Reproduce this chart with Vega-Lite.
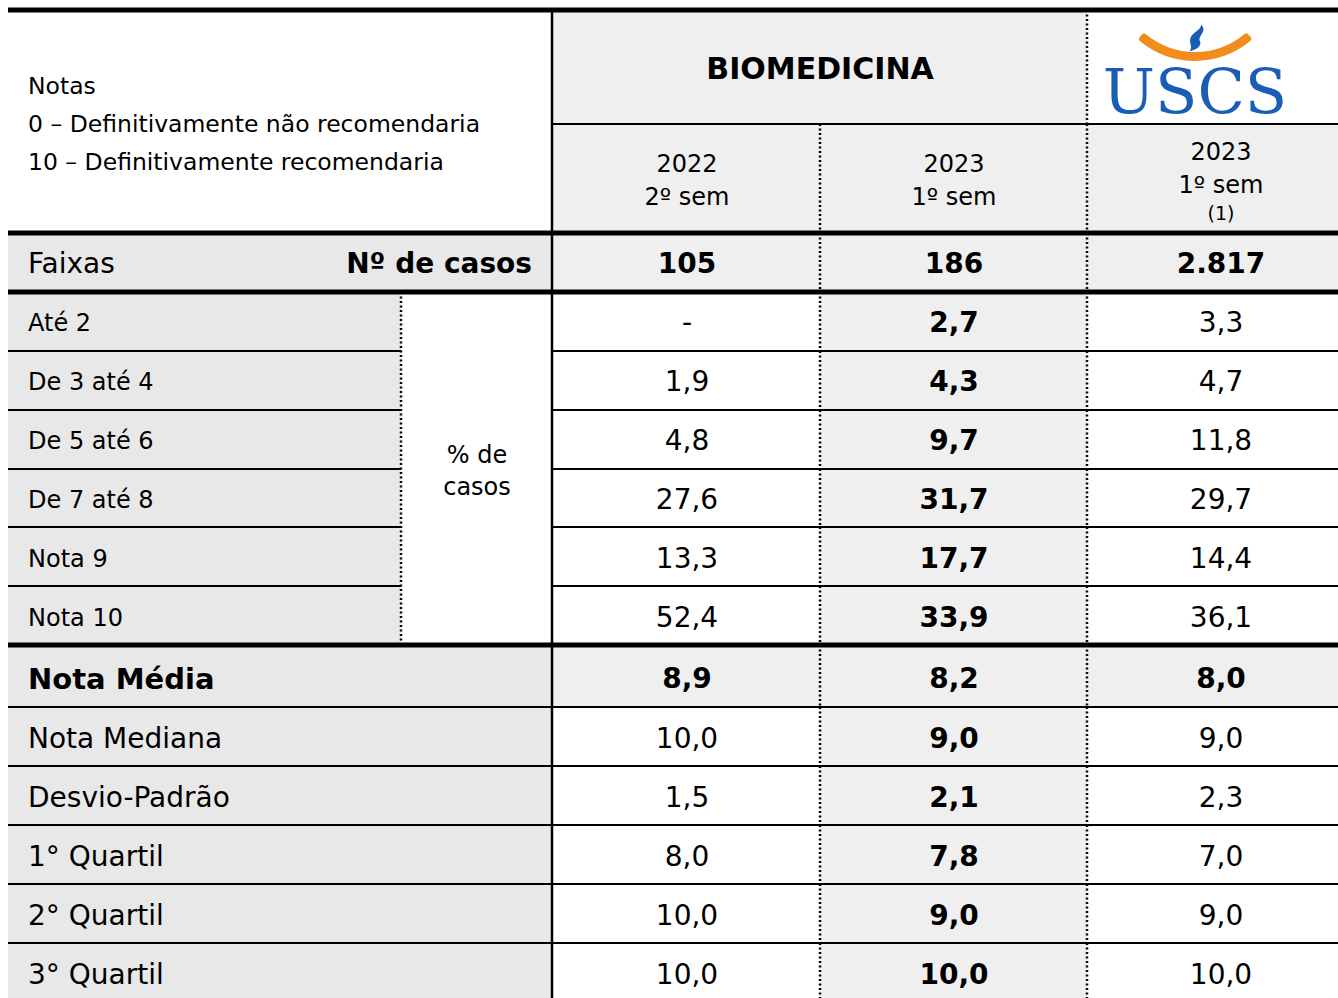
{
  "$schema": "https://vega.github.io/schema/vega-lite/v6.json",
  "width": 1338,
  "height": 998,
  "autosize": {"type": "none"},
  "padding": 0,
  "background": "white",
  "config": {"view": {"stroke": null}, "text": {"font": "DejaVu Sans", "color": "black"}},
  "datasets": {
    "rows": [
      {"row": "head", "y0": 10, "y1": 233, "yc": 123},
      {"row": "top", "y0": 10, "y1": 124, "yc": 70},
      {"row": "years", "y0": 124, "y1": 233, "yc": 179},
      {"row": "faixas", "y0": 233, "y1": 292, "yc": 265},
      {"row": "bloco", "y0": 292, "y1": 645, "yc": 470},
      {"row": "r1", "y0": 292, "y1": 351, "yc": 324},
      {"row": "r2", "y0": 351, "y1": 410, "yc": 383},
      {"row": "r3", "y0": 410, "y1": 469, "yc": 442},
      {"row": "r4", "y0": 469, "y1": 527, "yc": 501},
      {"row": "r5", "y0": 527, "y1": 586, "yc": 560},
      {"row": "r6", "y0": 586, "y1": 645, "yc": 619},
      {"row": "media", "y0": 645, "y1": 707, "yc": 680},
      {"row": "mediana", "y0": 707, "y1": 766, "yc": 740},
      {"row": "desvio", "y0": 766, "y1": 825, "yc": 799},
      {"row": "q1", "y0": 825, "y1": 884, "yc": 858},
      {"row": "q2", "y0": 884, "y1": 943, "yc": 917},
      {"row": "q3", "y0": 943, "y1": 998, "yc": 976}
    ],
    "cols": [
      {"col": "label", "x0": 8, "x1": 552, "xc": 280},
      {"col": "rotulo", "x0": 8, "x1": 401, "xc": 204},
      {"col": "pct", "x0": 401, "x1": 552, "xc": 477},
      {"col": "c1", "x0": 552, "x1": 820, "xc": 687},
      {"col": "c2", "x0": 820, "x1": 1087, "xc": 954},
      {"col": "c3", "x0": 1087, "x1": 1338, "xc": 1221},
      {"col": "bio", "x0": 552, "x1": 1087, "xc": 820},
      {"col": "logo", "x0": 1087, "x1": 1338, "xc": 1212}
    ],
    "cells": [
      {"row": "head", "col": "label"}, {"row": "top", "col": "bio"}, {"row": "top", "col": "logo"},
      {"row": "years", "col": "c1"}, {"row": "years", "col": "c2"}, {"row": "years", "col": "c3"},
      {"row": "faixas", "col": "label"}, {"row": "faixas", "col": "c1"}, {"row": "faixas", "col": "c2"}, {"row": "faixas", "col": "c3"},
      {"row": "bloco", "col": "pct"},
      {"row": "r1", "col": "rotulo"}, {"row": "r1", "col": "c1"}, {"row": "r1", "col": "c2"}, {"row": "r1", "col": "c3"},
      {"row": "r2", "col": "rotulo"}, {"row": "r2", "col": "c1"}, {"row": "r2", "col": "c2"}, {"row": "r2", "col": "c3"},
      {"row": "r3", "col": "rotulo"}, {"row": "r3", "col": "c1"}, {"row": "r3", "col": "c2"}, {"row": "r3", "col": "c3"},
      {"row": "r4", "col": "rotulo"}, {"row": "r4", "col": "c1"}, {"row": "r4", "col": "c2"}, {"row": "r4", "col": "c3"},
      {"row": "r5", "col": "rotulo"}, {"row": "r5", "col": "c1"}, {"row": "r5", "col": "c2"}, {"row": "r5", "col": "c3"},
      {"row": "r6", "col": "rotulo"}, {"row": "r6", "col": "c1"}, {"row": "r6", "col": "c2"}, {"row": "r6", "col": "c3"},
      {"row": "media", "col": "label"}, {"row": "media", "col": "c1"}, {"row": "media", "col": "c2"}, {"row": "media", "col": "c3"},
      {"row": "mediana", "col": "label"}, {"row": "mediana", "col": "c1"}, {"row": "mediana", "col": "c2"}, {"row": "mediana", "col": "c3"},
      {"row": "desvio", "col": "label"}, {"row": "desvio", "col": "c1"}, {"row": "desvio", "col": "c2"}, {"row": "desvio", "col": "c3"},
      {"row": "q1", "col": "label"}, {"row": "q1", "col": "c1"}, {"row": "q1", "col": "c2"}, {"row": "q1", "col": "c3"},
      {"row": "q2", "col": "label"}, {"row": "q2", "col": "c1"}, {"row": "q2", "col": "c2"}, {"row": "q2", "col": "c3"},
      {"row": "q3", "col": "label"}, {"row": "q3", "col": "c1"}, {"row": "q3", "col": "c2"}, {"row": "q3", "col": "c3"}
    ],
    "texts": [
      {"row": "head", "col": "label", "text": "Notas\n0 – Definitivamente não recomendaria\n10 – Definitivamente recomendaria"},
      {"row": "top", "col": "bio", "text": "BIOMEDICINA"},
      {"row": "top", "col": "logo", "text": "USCS"},
      {"row": "years", "col": "c1", "text": "2022\n2º sem"},
      {"row": "years", "col": "c2", "text": "2023\n1º sem"},
      {"row": "years", "col": "c3", "text": "2023\n1º sem"},
      {"row": "years", "col": "c3", "text": "(1)", "part": "nota"},
      {"row": "faixas", "col": "label", "text": "Faixas"},
      {"row": "faixas", "col": "pct", "text": "Nº de casos"},
      {"row": "faixas", "col": "c1", "text": "105"},
      {"row": "faixas", "col": "c2", "text": "186"},
      {"row": "faixas", "col": "c3", "text": "2.817"},
      {"row": "bloco", "col": "pct", "text": "% de\ncasos"},
      {"row": "r1", "col": "rotulo", "text": "Até 2"}, {"row": "r1", "col": "c1", "text": "-"}, {"row": "r1", "col": "c2", "text": "2,7"}, {"row": "r1", "col": "c3", "text": "3,3"},
      {"row": "r2", "col": "rotulo", "text": "De 3 até 4"}, {"row": "r2", "col": "c1", "text": "1,9"}, {"row": "r2", "col": "c2", "text": "4,3"}, {"row": "r2", "col": "c3", "text": "4,7"},
      {"row": "r3", "col": "rotulo", "text": "De 5 até 6"}, {"row": "r3", "col": "c1", "text": "4,8"}, {"row": "r3", "col": "c2", "text": "9,7"}, {"row": "r3", "col": "c3", "text": "11,8"},
      {"row": "r4", "col": "rotulo", "text": "De 7 até 8"}, {"row": "r4", "col": "c1", "text": "27,6"}, {"row": "r4", "col": "c2", "text": "31,7"}, {"row": "r4", "col": "c3", "text": "29,7"},
      {"row": "r5", "col": "rotulo", "text": "Nota 9"}, {"row": "r5", "col": "c1", "text": "13,3"}, {"row": "r5", "col": "c2", "text": "17,7"}, {"row": "r5", "col": "c3", "text": "14,4"},
      {"row": "r6", "col": "rotulo", "text": "Nota 10"}, {"row": "r6", "col": "c1", "text": "52,4"}, {"row": "r6", "col": "c2", "text": "33,9"}, {"row": "r6", "col": "c3", "text": "36,1"},
      {"row": "media", "col": "label", "text": "Nota Média"}, {"row": "media", "col": "c1", "text": "8,9"}, {"row": "media", "col": "c2", "text": "8,2"}, {"row": "media", "col": "c3", "text": "8,0"},
      {"row": "mediana", "col": "label", "text": "Nota Mediana"}, {"row": "mediana", "col": "c1", "text": "10,0"}, {"row": "mediana", "col": "c2", "text": "9,0"}, {"row": "mediana", "col": "c3", "text": "9,0"},
      {"row": "desvio", "col": "label", "text": "Desvio-Padrão"}, {"row": "desvio", "col": "c1", "text": "1,5"}, {"row": "desvio", "col": "c2", "text": "2,1"}, {"row": "desvio", "col": "c3", "text": "2,3"},
      {"row": "q1", "col": "label", "text": "1° Quartil"}, {"row": "q1", "col": "c1", "text": "8,0"}, {"row": "q1", "col": "c2", "text": "7,8"}, {"row": "q1", "col": "c3", "text": "7,0"},
      {"row": "q2", "col": "label", "text": "2° Quartil"}, {"row": "q2", "col": "c1", "text": "10,0"}, {"row": "q2", "col": "c2", "text": "9,0"}, {"row": "q2", "col": "c3", "text": "9,0"},
      {"row": "q3", "col": "label", "text": "3° Quartil"}, {"row": "q3", "col": "c1", "text": "10,0"}, {"row": "q3", "col": "c2", "text": "10,0"}, {"row": "q3", "col": "c3", "text": "10,0"}
    ]
  },
  "layer": [
    {
      "data": {"name": "cells"},
      "transform": [
        {"lookup": "row", "from": {"data": {"name": "rows"}, "key": "row", "fields": ["y0", "y1", "yc"]}},
        {"lookup": "col", "from": {"data": {"name": "cols"}, "key": "col", "fields": ["x0", "x1", "xc"]}}
      ],
      "layer": [
        {
          "transform": [{"filter": "(datum.col == 'label' || datum.col == 'rotulo') && datum.row != 'head'"}],
          "mark": {"type": "rect", "color": "#e8e8e8"},
          "encoding": {
            "x": {"field": "x0", "type": "quantitative", "scale": {"domain": [0, 1338], "nice": false, "zero": false}, "axis": null},
            "x2": {"field": "x1"},
            "y": {"field": "y0", "type": "quantitative", "scale": {"domain": [0, 998], "nice": false, "zero": false, "reverse": true}, "axis": null},
            "y2": {"field": "y1"}
          }
        },
        {
          "transform": [{"filter": "datum.col == 'bio' || datum.col == 'c2' || ((datum.col == 'c1' || datum.col == 'c3') && (datum.row == 'years' || datum.row == 'faixas' || datum.row == 'media'))"}],
          "mark": {"type": "rect", "color": "#efefef"},
          "encoding": {
            "x": {"field": "x0", "type": "quantitative", "scale": {"domain": [0, 1338], "nice": false, "zero": false}, "axis": null},
            "x2": {"field": "x1"},
            "y": {"field": "y0", "type": "quantitative", "scale": {"domain": [0, 998], "nice": false, "zero": false, "reverse": true}, "axis": null},
            "y2": {"field": "y1"}
          }
        },
        {
          "transform": [{"filter": "indexof(['head','top','faixas','r1','bloco','media'], datum.row) >= 0"}],
          "mark": {"type": "rule", "color": "black", "strokeWidth": 5},
          "encoding": {
            "x": {"field": "x0", "type": "quantitative", "scale": {"domain": [0, 1338], "nice": false, "zero": false}, "axis": null},
            "x2": {"field": "x1"},
            "y": {"field": "y0", "type": "quantitative", "scale": {"domain": [0, 998], "nice": false, "zero": false, "reverse": true}, "axis": null}
          }
        },
        {
          "transform": [{"filter": "indexof(['head','top','faixas','r1','bloco','media'], datum.row) < 0"}],
          "mark": {"type": "rule", "color": "black", "strokeWidth": 2},
          "encoding": {
            "x": {"field": "x0", "type": "quantitative", "scale": {"domain": [0, 1338], "nice": false, "zero": false}, "axis": null},
            "x2": {"field": "x1"},
            "y": {"field": "y0", "type": "quantitative", "scale": {"domain": [0, 998], "nice": false, "zero": false, "reverse": true}, "axis": null}
          }
        },
        {
          "transform": [{"filter": "datum.col == 'c1' || datum.col == 'bio'"}],
          "mark": {"type": "rule", "color": "black", "strokeWidth": 2.5},
          "encoding": {
            "x": {"field": "x0", "type": "quantitative", "scale": {"domain": [0, 1338], "nice": false, "zero": false}, "axis": null},
            "y": {"field": "y0", "type": "quantitative", "scale": {"domain": [0, 998], "nice": false, "zero": false, "reverse": true}, "axis": null},
            "y2": {"field": "y1"}
          }
        },
        {
          "transform": [{"filter": "indexof(['c2','c3','logo','pct'], datum.col) >= 0"}],
          "mark": {"type": "rule", "color": "black", "strokeWidth": 2.5, "strokeDash": [2, 2.5]},
          "encoding": {
            "x": {"field": "x0", "type": "quantitative", "scale": {"domain": [0, 1338], "nice": false, "zero": false}, "axis": null},
            "y": {"field": "y0", "type": "quantitative", "scale": {"domain": [0, 998], "nice": false, "zero": false, "reverse": true}, "axis": null},
            "y2": {"field": "y1"}
          }
        }
      ]
    },
    {
      "data": {"name": "texts"},
      "transform": [
        {"lookup": "row", "from": {"data": {"name": "rows"}, "key": "row", "fields": ["y0", "y1", "yc"]}},
        {"lookup": "col", "from": {"data": {"name": "cols"}, "key": "col", "fields": ["x0", "x1", "xc"]}}
      ],
      "layer": [
        {
          "transform": [{"filter": "datum.row == 'head'"}],
          "mark": {"type": "text", "align": "left", "baseline": "middle", "dx": 20, "dy": -36, "fontSize": 23.5, "lineBreak": "\n", "lineHeight": 38},
          "encoding": {
            "x": {"field": "x0", "type": "quantitative", "scale": {"domain": [0, 1338], "nice": false, "zero": false}, "axis": null},
            "y": {"field": "yc", "type": "quantitative", "scale": {"domain": [0, 998], "nice": false, "zero": false, "reverse": true}, "axis": null},
            "text": {"field": "text"}
          }
        },
        {
          "transform": [{"filter": "datum.row == 'top' && datum.col == 'bio'"}],
          "mark": {"type": "text", "align": "center", "baseline": "middle", "fontSize": 30, "fontWeight": "bold"},
          "encoding": {
            "x": {"field": "xc", "type": "quantitative", "scale": {"domain": [0, 1338], "nice": false, "zero": false}, "axis": null},
            "y": {"field": "yc", "type": "quantitative", "scale": {"domain": [0, 998], "nice": false, "zero": false, "reverse": true}, "axis": null},
            "text": {"field": "text"}
          }
        },
        {
          "transform": [{"filter": "datum.row == 'top' && datum.col == 'logo'"}],
          "mark": {"type": "text", "align": "center", "baseline": "alphabetic", "dx": -17, "dy": 43, "fontSize": 62, "font": "DejaVu Serif", "color": "#1a5db5"},
          "encoding": {
            "x": {"field": "xc", "type": "quantitative", "scale": {"domain": [0, 1338], "nice": false, "zero": false}, "axis": null},
            "y": {"field": "yc", "type": "quantitative", "scale": {"domain": [0, 998], "nice": false, "zero": false, "reverse": true}, "axis": null},
            "text": {"field": "text"}
          }
        },
        {
          "transform": [{"filter": "datum.row == 'top' && datum.col == 'logo'"}],
          "mark": {"type": "arc", "color": "#f28c1c", "theta": 2.41, "theta2": 3.87, "radius": 86, "radius2": 77, "cornerRadius": 3, "xOffset": -17, "yOffset": -95},
          "encoding": {
            "x": {"field": "xc", "type": "quantitative", "scale": {"domain": [0, 1338], "nice": false, "zero": false}, "axis": null},
            "y": {"field": "yc", "type": "quantitative", "scale": {"domain": [0, 998], "nice": false, "zero": false, "reverse": true}, "axis": null}
          }
        },
        {
          "transform": [{"filter": "datum.row == 'top' && datum.col == 'logo'"}],
          "mark": {"type": "point", "filled": true, "opacity": 1, "color": "#1a5db5", "size": 700, "shape": "M0.4,-1 C0.9,-0.5 0.1,-0.15 0.3,0.25 C0.45,0.55 0.1,0.9 -0.5,1 C-0.15,0.65 -0.65,0.35 -0.35,-0.15 C-0.1,-0.5 0.35,-0.6 0.4,-1 Z", "xOffset": -16, "yOffset": -32},
          "encoding": {
            "x": {"field": "xc", "type": "quantitative", "scale": {"domain": [0, 1338], "nice": false, "zero": false}, "axis": null},
            "y": {"field": "yc", "type": "quantitative", "scale": {"domain": [0, 998], "nice": false, "zero": false, "reverse": true}, "axis": null}
          }
        },
        {
          "transform": [{"filter": "datum.row == 'years' && datum.col != 'c3'"}],
          "mark": {"type": "text", "align": "center", "baseline": "middle", "dy": -14, "fontSize": 24, "lineBreak": "\n", "lineHeight": 33},
          "encoding": {
            "x": {"field": "xc", "type": "quantitative", "scale": {"domain": [0, 1338], "nice": false, "zero": false}, "axis": null},
            "y": {"field": "yc", "type": "quantitative", "scale": {"domain": [0, 998], "nice": false, "zero": false, "reverse": true}, "axis": null},
            "text": {"field": "text"}
          }
        },
        {
          "transform": [{"filter": "datum.row == 'years' && datum.col == 'c3' && datum.part != 'nota'"}],
          "mark": {"type": "text", "align": "center", "baseline": "middle", "dy": -26, "fontSize": 24, "lineBreak": "\n", "lineHeight": 33},
          "encoding": {
            "x": {"field": "xc", "type": "quantitative", "scale": {"domain": [0, 1338], "nice": false, "zero": false}, "axis": null},
            "y": {"field": "yc", "type": "quantitative", "scale": {"domain": [0, 998], "nice": false, "zero": false, "reverse": true}, "axis": null},
            "text": {"field": "text"}
          }
        },
        {
          "transform": [{"filter": "datum.part == 'nota'"}],
          "mark": {"type": "text", "align": "center", "baseline": "middle", "dy": 35, "fontSize": 19},
          "encoding": {
            "x": {"field": "xc", "type": "quantitative", "scale": {"domain": [0, 1338], "nice": false, "zero": false}, "axis": null},
            "y": {"field": "yc", "type": "quantitative", "scale": {"domain": [0, 998], "nice": false, "zero": false, "reverse": true}, "axis": null},
            "text": {"field": "text"}
          }
        },
        {
          "transform": [{"filter": "datum.col == 'label' && datum.row != 'head' && datum.row != 'media'"}],
          "mark": {"type": "text", "align": "left", "baseline": "middle", "dx": 20, "fontSize": 28},
          "encoding": {
            "x": {"field": "x0", "type": "quantitative", "scale": {"domain": [0, 1338], "nice": false, "zero": false}, "axis": null},
            "y": {"field": "yc", "type": "quantitative", "scale": {"domain": [0, 998], "nice": false, "zero": false, "reverse": true}, "axis": null},
            "text": {"field": "text"}
          }
        },
        {
          "transform": [{"filter": "datum.col == 'label' && datum.row == 'media'"}],
          "mark": {"type": "text", "align": "left", "baseline": "middle", "dx": 20, "fontSize": 29, "fontWeight": "bold"},
          "encoding": {
            "x": {"field": "x0", "type": "quantitative", "scale": {"domain": [0, 1338], "nice": false, "zero": false}, "axis": null},
            "y": {"field": "yc", "type": "quantitative", "scale": {"domain": [0, 998], "nice": false, "zero": false, "reverse": true}, "axis": null},
            "text": {"field": "text"}
          }
        },
        {
          "transform": [{"filter": "datum.col == 'rotulo'"}],
          "mark": {"type": "text", "align": "left", "baseline": "middle", "dx": 20, "fontSize": 24},
          "encoding": {
            "x": {"field": "x0", "type": "quantitative", "scale": {"domain": [0, 1338], "nice": false, "zero": false}, "axis": null},
            "y": {"field": "yc", "type": "quantitative", "scale": {"domain": [0, 998], "nice": false, "zero": false, "reverse": true}, "axis": null},
            "text": {"field": "text"}
          }
        },
        {
          "transform": [{"filter": "datum.row == 'faixas' && datum.col == 'pct'"}],
          "mark": {"type": "text", "align": "right", "baseline": "middle", "dx": -20, "fontSize": 28, "fontWeight": "bold"},
          "encoding": {
            "x": {"field": "x1", "type": "quantitative", "scale": {"domain": [0, 1338], "nice": false, "zero": false}, "axis": null},
            "y": {"field": "yc", "type": "quantitative", "scale": {"domain": [0, 998], "nice": false, "zero": false, "reverse": true}, "axis": null},
            "text": {"field": "text"}
          }
        },
        {
          "transform": [{"filter": "datum.row == 'bloco'"}],
          "mark": {"type": "text", "align": "center", "baseline": "middle", "dy": -14, "fontSize": 24, "lineBreak": "\n", "lineHeight": 32},
          "encoding": {
            "x": {"field": "xc", "type": "quantitative", "scale": {"domain": [0, 1338], "nice": false, "zero": false}, "axis": null},
            "y": {"field": "yc", "type": "quantitative", "scale": {"domain": [0, 998], "nice": false, "zero": false, "reverse": true}, "axis": null},
            "text": {"field": "text"}
          }
        },
        {
          "transform": [{"filter": "(datum.col == 'c1' || datum.col == 'c3') && indexof(['years','faixas','media'], datum.row) < 0"}],
          "mark": {"type": "text", "align": "center", "baseline": "middle", "fontSize": 28},
          "encoding": {
            "x": {"field": "xc", "type": "quantitative", "scale": {"domain": [0, 1338], "nice": false, "zero": false}, "axis": null},
            "y": {"field": "yc", "type": "quantitative", "scale": {"domain": [0, 998], "nice": false, "zero": false, "reverse": true}, "axis": null},
            "text": {"field": "text"}
          }
        },
        {
          "transform": [{"filter": "(datum.col == 'c2' && datum.row != 'years') || ((datum.col == 'c1' || datum.col == 'c3') && (datum.row == 'faixas' || datum.row == 'media'))"}],
          "mark": {"type": "text", "align": "center", "baseline": "middle", "fontSize": 28, "fontWeight": "bold"},
          "encoding": {
            "x": {"field": "xc", "type": "quantitative", "scale": {"domain": [0, 1338], "nice": false, "zero": false}, "axis": null},
            "y": {"field": "yc", "type": "quantitative", "scale": {"domain": [0, 998], "nice": false, "zero": false, "reverse": true}, "axis": null},
            "text": {"field": "text"}
          }
        }
      ]
    }
  ]
}
